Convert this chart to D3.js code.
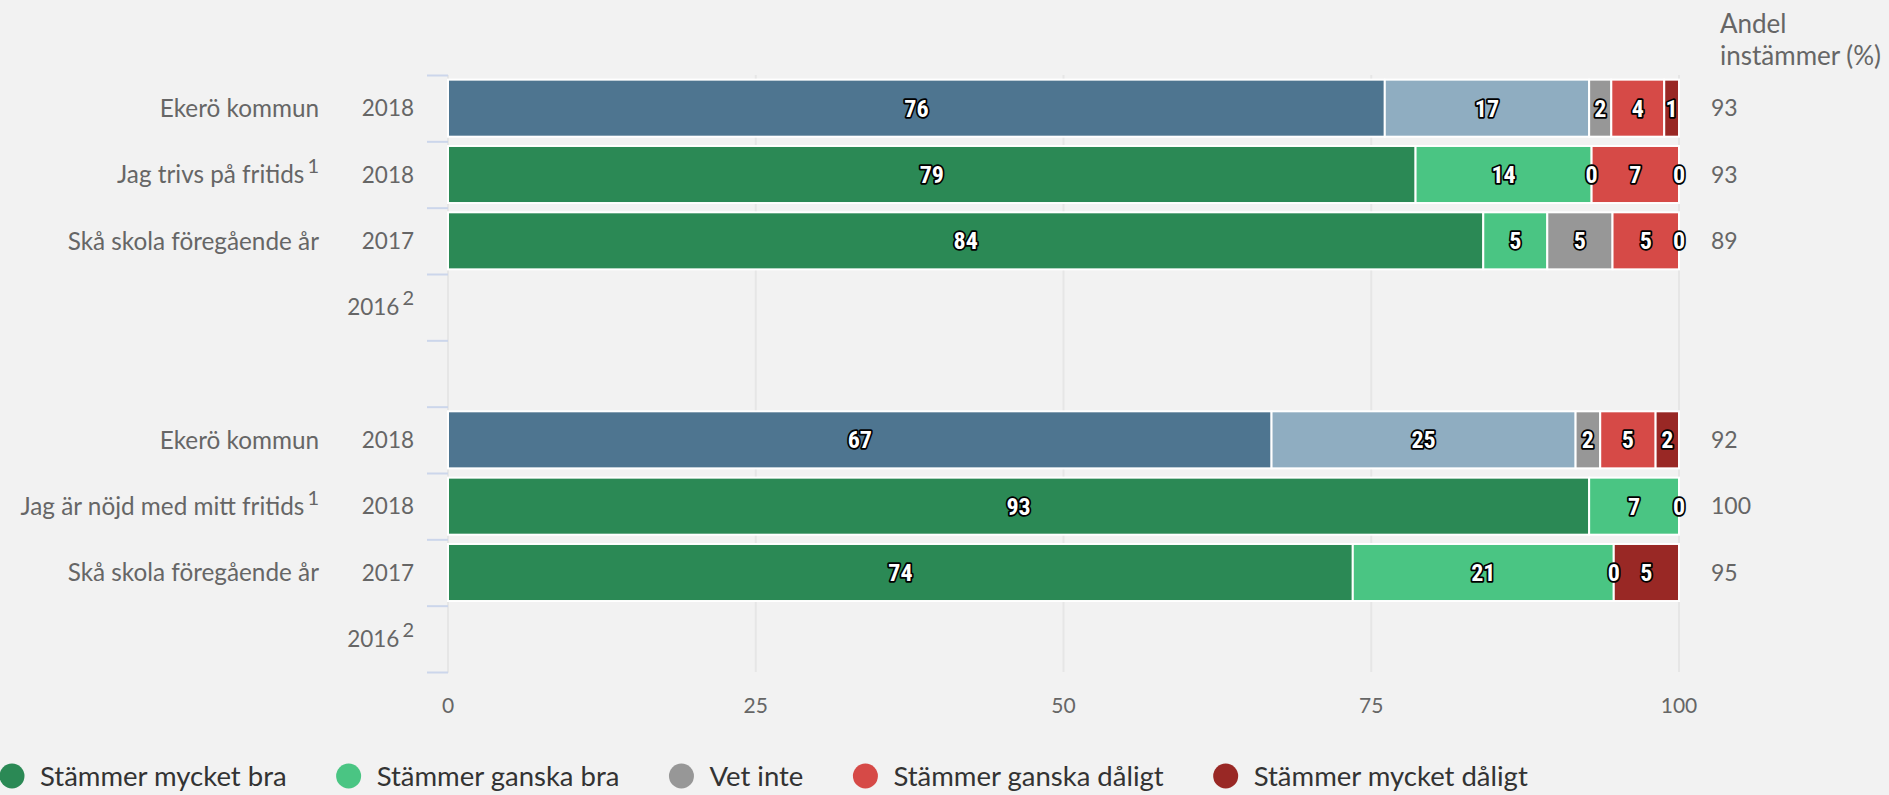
<!DOCTYPE html>
<html lang="sv">
<head>
  <meta charset="UTF-8">
  <title>Fritids – trivsel</title>
  <script src="https://d3js.org/d3.v7.min.js"></script>
  <style>
    body {
      margin: 0;
      background-color: #f2f2f2;
    }
    svg {
      display: block;
      font-family: Lato, "Open Sans", sans-serif;
    }
  </style>
</head>
<body>

<script>
  // rows of the chart (index 4 is an empty spacer row between the two questions)
  const rowLabels = ["Ekerö kommun", "Jag trivs på fritids", "Skå skola föregående år", "", "",
                     "Ekerö kommun", "Jag är nöjd med mitt fritids", "Skå skola föregående år", ""];
  const rowNotes = ["", "1", "", "", "", "", "1", "", ""];
  const years = ["2018", "2018", "2017", "2016", "", "2018", "2018", "2017", "2016"];
  const yearNotes = ["", "", "", "2", "", "", "", "", "2"];
  const isMunicipality = [true, false, false, false, false, true, false, false, false];

  // series values (%), null = no data
  const mycketBra    = [76.1, 78.6, 84.1, null, null, 66.9, 92.7, 73.5, null];
  const ganskaBra    = [16.6, 14.3, 5.2,  null, null, 24.7, 7.3,  21.2, null];
  const vetInte      = [1.8,  0,    5.3,  null, null, 2.0,  0,    0,    null];
  const ganskaDaligt = [4.3,  7.1,  5.4,  null, null, 4.5,  0,    0,    null];
  const mycketDaligt = [1.2,  0,    0,    null, null, 1.9,  0,    5.3,  null];
  const andelInstammer = [93, 93, 89, null, null, 92, 100, 95, null];

  const seriesNames = ["Stämmer mycket bra", "Stämmer ganska bra", "Vet inte",
                       "Stämmer ganska dåligt", "Stämmer mycket dåligt"];
  const xTicks = [0, 25, 50, 75, 100];

  const keys = ["mb", "gb", "vi", "gd", "md"];
  const colors = ["#2b8955", "#4ac583", "#979797", "#d64a47", "#992825"];
  const kommunColors = ["#4e7590", "#8fadc1", "#979797", "#d64a47", "#992825"];

  const table = rowLabels.map((label, i) => ({
    row: i,
    mb: mycketBra[i], gb: ganskaBra[i], vi: vetInte[i],
    gd: ganskaDaligt[i], md: mycketDaligt[i]
  }));

  const width = 1889, height = 795;
  const svg = d3.select("body").append("svg")
    .attr("width", width)
    .attr("height", height);

  const x = d3.scaleLinear().domain([0, 100]).range([448, 1679]);
  const y = d3.scaleBand()
    .domain(d3.range(rowLabels.length))
    .range([75, 672])
    .paddingInner(0.14)
    .paddingOuter(0.07);
  // boundaries between rows (for tick marks)
  const yEdge = d3.scaleLinear().domain([0, rowLabels.length]).range([75, 672]);

  // vertical grid lines
  svg.append("g")
    .selectAll("line")
    .data(xTicks)
    .join("line")
      .attr("x1", d => x(d)).attr("x2", d => x(d))
      .attr("y1", 75).attr("y2", 672)
      .attr("stroke", "#e6e6e6")
      .attr("stroke-width", 2);

  // y-axis ticks at row boundaries
  const yAxis = svg.append("g")
    .attr("transform", "translate(" + x(0) + ",0)")
    .call(d3.axisLeft(yEdge).tickValues(d3.range(rowLabels.length + 1)).tickFormat("").tickSize(21));
  yAxis.select(".domain").attr("stroke", "#e6e6e6").attr("stroke-width", 1);
  yAxis.selectAll(".tick line").attr("stroke", "#ccd6eb").attr("stroke-width", 2);

  // x-axis labels
  svg.append("g")
    .selectAll("text")
    .data(xTicks)
    .join("text")
      .attr("x", d => x(d))
      .attr("y", 713)
      .attr("text-anchor", "middle")
      .attr("fill", "#666")
      .style("font-size", "21px")
      .text(d => d);

  // stacked bars
  const stacked = d3.stack().keys(keys).value((d, k) => d[k] == null ? 0 : d[k])(table);
  const hasData = i => andelInstammer[i] != null;

  stacked.forEach((layer, si) => {
    svg.append("g")
      .selectAll("rect")
      .data(layer.filter(d => hasData(d.data.row) && d[1] - d[0] > 0))
      .join("rect")
        .attr("x", d => x(d[0]))
        .attr("y", d => y(d.data.row))
        .attr("width", d => x(d[1]) - x(d[0]))
        .attr("height", y.bandwidth())
        .attr("fill", d => (isMunicipality[d.data.row] ? kommunColors : colors)[si])
        .attr("stroke", "#fff")
        .attr("stroke-width", 2);
  });

  // data labels (white with dark outline); overlapping ones are skipped
  const labelG = svg.append("g")
    .style("font-family", "'Liberation Sans Narrow', 'Roboto Condensed', 'DejaVu Sans Condensed', sans-serif")
    .style("font-weight", "bold")
    .style("font-size", "24px");
  const placed = {};
  stacked.forEach(layer => {
    layer.forEach(d => {
      const r = d.data.row;
      if (!hasData(r)) return;
      const cx = (x(d[0]) + x(d[1])) / 2;
      placed[r] = placed[r] || [];
      if (placed[r].some(px => Math.abs(px - cx) < 12)) return;
      placed[r].push(cx);
      labelG.append("text")
        .attr("x", cx)
        .attr("y", y(r) + y.bandwidth() / 2)
        .attr("dy", "0.36em")
        .attr("text-anchor", "middle")
        .attr("fill", "#fff")
        .attr("stroke", "#000")
        .attr("stroke-width", 3.5)
        .attr("stroke-linejoin", "round")
        .attr("paint-order", "stroke")
        .text(Math.round(d[1] - d[0]));
    });
  });

  // category labels and years
  function labelWithNote(xPos, i, main, note, size) {
    const t = svg.append("text")
      .attr("x", xPos)
      .attr("y", y(i) + y.bandwidth() / 2)
      .attr("dy", "0.36em")
      .attr("text-anchor", "end")
      .attr("fill", "#666")
      .style("font-size", size + "px");
    t.append("tspan").text(main);
    if (note) {
      t.append("tspan").attr("dx", 3).attr("dy", -10).style("font-size", "20px").text(note);
    }
  }
  rowLabels.forEach((label, i) => {
    if (label) labelWithNote(319, i, label, rowNotes[i], 24.3);
    if (years[i]) labelWithNote(414, i, years[i], yearNotes[i], 22.5);
  });

  // right column: share that agrees
  svg.append("text")
    .attr("x", 1720).attr("y", 33)
    .attr("fill", "#666").style("font-size", "26px")
    .text("Andel");
  svg.append("text")
    .attr("x", 1720).attr("y", 65)
    .attr("fill", "#666").style("font-size", "26px")
    .text("instämmer (%)");

  svg.append("g")
    .selectAll("text")
    .data(andelInstammer.map((v, i) => ({ v, i })).filter(d => d.v != null))
    .join("text")
      .attr("x", 1711)
      .attr("y", d => y(d.i) + y.bandwidth() / 2)
      .attr("dy", "0.36em")
      .attr("fill", "#666")
      .style("font-size", "23px")
      .text(d => d.v);

  // legend
  const legend = svg.append("g").attr("transform", "translate(0,776)");
  let lx = 0;
  seriesNames.forEach((name, i) => {
    const item = legend.append("g").attr("transform", "translate(" + lx + ",0)");
    item.append("circle")
      .attr("cx", 12).attr("cy", 0).attr("r", 12.5)
      .attr("fill", colors[i]);
    const txt = item.append("text")
      .attr("x", 40).attr("y", 0).attr("dy", "0.36em")
      .attr("fill", "#333")
      .style("font-size", "27.5px")
      .text(name);
    lx += 40 + txt.node().getComputedTextLength() + 50;
  });
</script>

</body>
</html>
